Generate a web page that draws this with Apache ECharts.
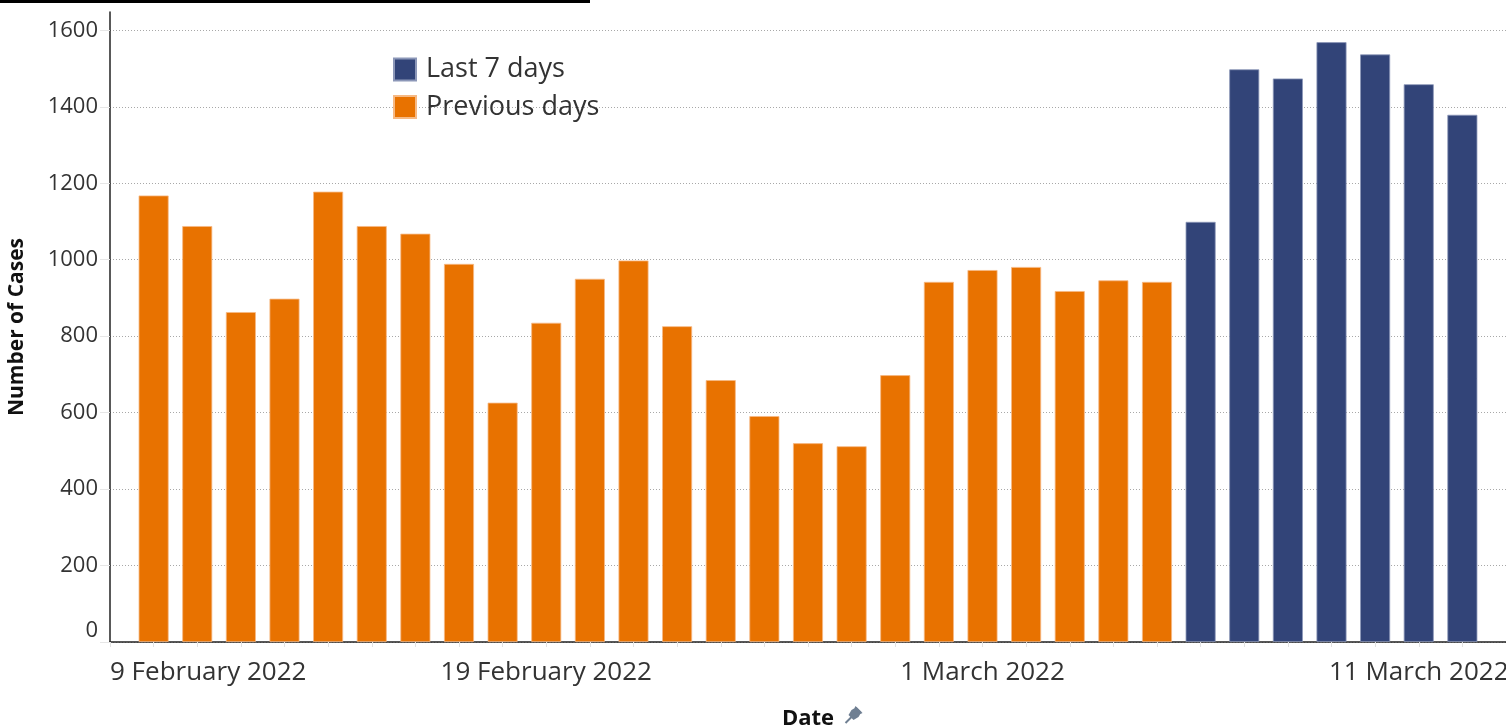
<!DOCTYPE html>
<html>
<head>
<meta charset="utf-8">
<script src="https://cdn.jsdelivr.net/npm/echarts@6/dist/echarts.min.js"></script>
<style>
html,body{margin:0;padding:0;background:#fff;}
#chart{width:1506px;height:727px;}
</style>
</head>
<body>
<div id="chart"></div>
<script>
// Categories: one per day (axis runs from 9 Feb to 13 Mar 2022)
const dates = [
  "9 February 2022","10 February 2022","11 February 2022","12 February 2022","13 February 2022",
  "14 February 2022","15 February 2022","16 February 2022","17 February 2022","18 February 2022",
  "19 February 2022","20 February 2022","21 February 2022","22 February 2022","23 February 2022",
  "24 February 2022","25 February 2022","26 February 2022","27 February 2022","28 February 2022",
  "1 March 2022","2 March 2022","3 March 2022","4 March 2022","5 March 2022","6 March 2022",
  "7 March 2022","8 March 2022","9 March 2022","10 March 2022","11 March 2022","12 March 2022",
  "13 March 2022"
];
// Previous days (10 Feb - 5 Mar)
const previousDays = [null,
  1168, 1088, 863, 898, 1178, 1088, 1068, 989, 626, 835,
  950, 998, 826, 685, 591, 520, 512, 698, 942, 973,
  981, 918, 946, 942,
  null, null, null, null, null, null, null, null];
// Last 7 days (6 Mar - 12 Mar)
const last7Days = [null,
  null, null, null, null, null, null, null, null, null, null,
  null, null, null, null, null, null, null, null, null, null,
  null, null, null, null,
  1099, 1498, 1474, 1569, 1537, 1459, 1379,
  null];
const shownDateLabels = ["9 February 2022","19 February 2022","1 March 2022","11 March 2022"];
const yTicks = {min: 0, max: 1648, interval: 200};

const FONT = "'Open Sans', sans-serif";
const chart = echarts.init(document.getElementById('chart'), null, {renderer: 'canvas'});
chart.setOption({
  animation: false,
  backgroundColor: '#ffffff',
  grid: {left: 110, right: 0, top: 12, bottom: 85, containLabel: false, outerBoundsMode: 'none'},
  legend: {
    orient: 'vertical',
    left: 388, top: 51,
    itemWidth: 22, itemHeight: 22, itemGap: 10.5,
    icon: 'rect',
    data: ['Last 7 days', 'Previous days'],
    textStyle: {fontFamily: FONT, fontSize: 27, color: '#333', lineHeight: 27, padding: [0, 0, 0, 5]}
  },
  xAxis: {
    type: 'category',
    data: dates,
    boundaryGap: false,
    name: 'Date',
    nameLocation: 'middle',
    nameGap: 66,
    nameTextStyle: {fontFamily: FONT, fontSize: 22, fontWeight: 'bold', color: '#111'},
    axisLine: {lineStyle: {color: '#222', width: 1.5}},
    axisTick: {show: true, interval: 0, length: 5, lineStyle: {color: '#e2e2e2'}},
    axisLabel: {
      interval: 0,
      formatter: v => shownDateLabels.includes(v) ? v : '',
      fontFamily: FONT, fontSize: 26, color: '#333', margin: 18,
      alignMinLabel: 'left'
    },
    splitLine: {show: false}
  },
  yAxis: {
    type: 'value',
    min: yTicks.min, max: yTicks.max, interval: yTicks.interval,
    name: 'Number of Cases',
    nameLocation: 'middle',
    nameGap: 82,
    nameRotate: 90,
    nameTextStyle: {fontFamily: FONT, fontSize: 21, fontWeight: 'bold', color: '#111'},
    axisLine: {show: true, lineStyle: {color: '#222', width: 1.5}},
    axisTick: {show: true, length: 10, lineStyle: {color: '#e6e6e6'}},
    axisLabel: {
      fontFamily: FONT, fontSize: 22, color: '#333', margin: 12,
      formatter: v => String(v),
      showMaxLabel: false,
      verticalAlignMinLabel: 'bottom'
    },
    splitLine: {show: true, showMaxLine: false, lineStyle: {color: '#a8a8a8', width: 1, type: [1, 2]}}
  },
  series: [
    {
      name: 'Last 7 days', type: 'bar', stack: 'days', data: last7Days,
      barWidth: 30,
      itemStyle: {color: '#324478', borderColor: '#8c97b8', borderWidth: 0.8}
    },
    {
      name: 'Previous days', type: 'bar', stack: 'days', data: previousDays,
      barWidth: 30,
      itemStyle: {color: '#E87200', borderColor: '#f6b984', borderWidth: 0.8}
    }
  ],
  graphic: [
    {type: 'rect', left: 0, top: 0, shape: {width: 590, height: 3}, style: {fill: '#000'}},
    {
      type: 'group', left: 843, top: 706,
      children: [
        {type: 'line', shape: {x1: 1, y1: 17, x2: 7, y2: 11}, style: {stroke: '#6f7f92', lineWidth: 2}},
        {type: 'polygon', shape: {points: [[4, 9], [9, 14], [14, 11], [17, 6], [12, 1], [7, 4]]}, style: {fill: '#6f7f92'}},
        {type: 'polygon', shape: {points: [[11, 0], [18, 7], [16, 8], [10, 2]]}, style: {fill: '#6f7f92'}}
      ]
    }
  ]
});
</script>
</body>
</html>
